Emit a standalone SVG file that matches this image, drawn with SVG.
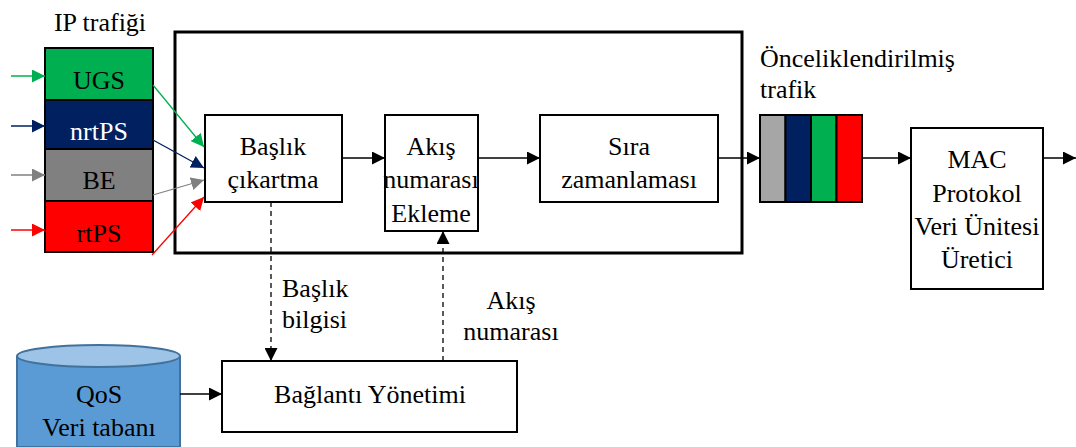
<svg xmlns="http://www.w3.org/2000/svg" width="1076" height="447" viewBox="0 0 1076 447">
  <style>
    text { font-family: "Liberation Serif", "Times New Roman", serif; font-size: 26px; fill: #000; }
    .c { text-anchor: middle; }
    .box { fill: #fff; stroke: #000; stroke-width: 2; }
    .cell { stroke: #000; stroke-width: 2; }
    .ln { fill: none; stroke: #000; stroke-width: 1.3; }
    .dash { fill: none; stroke: #000; stroke-width: 1.3; stroke-dasharray: 5 4; }
  </style>
  <defs>
    <marker id="ak" viewBox="0 0 10 10" refX="10" refY="5" markerWidth="13" markerHeight="13" markerUnits="userSpaceOnUse" orient="auto"><path d="M0,0 L10,5 L0,10 z" fill="#000"/></marker>
    <marker id="ag" viewBox="0 0 10 10" refX="10" refY="5" markerWidth="13" markerHeight="13" markerUnits="userSpaceOnUse" orient="auto"><path d="M0,0 L10,5 L0,10 z" fill="#00B050"/></marker>
    <marker id="an" viewBox="0 0 10 10" refX="10" refY="5" markerWidth="13" markerHeight="13" markerUnits="userSpaceOnUse" orient="auto"><path d="M0,0 L10,5 L0,10 z" fill="#002060"/></marker>
    <marker id="ay" viewBox="0 0 10 10" refX="10" refY="5" markerWidth="13" markerHeight="13" markerUnits="userSpaceOnUse" orient="auto"><path d="M0,0 L10,5 L0,10 z" fill="#808080"/></marker>
    <marker id="ar" viewBox="0 0 10 10" refX="10" refY="5" markerWidth="13" markerHeight="13" markerUnits="userSpaceOnUse" orient="auto"><path d="M0,0 L10,5 L0,10 z" fill="#FF0000"/></marker>
  </defs>

  <rect width="1076" height="447" fill="#fff"/>

  <!-- outer processing block -->
  <rect id="frame" x="175" y="32" width="567" height="221" fill="none" stroke="#000" stroke-width="3"/>

  <!-- incoming IP traffic classes -->
  <g id="ip-traffic">
    <text x="100" y="31" class="c">IP trafiği</text>
    <rect class="cell" x="45" y="48" width="108" height="52" fill="#00B050"/>
    <text x="99" y="89" class="c">UGS</text>
    <rect class="cell" x="45" y="100" width="108" height="49" fill="#002060"/>
    <text x="99" y="140" class="c" style="fill:#fff">nrtPS</text>
    <rect class="cell" x="45" y="149" width="108" height="52" fill="#808080"/>
    <text x="99" y="189" class="c">BE</text>
    <rect class="cell" x="45" y="201" width="108" height="51" fill="#FF0000"/>
    <text x="99" y="242" class="c">rtPS</text>
  </g>

  <g id="baslik-cikartma">
    <rect class="box" x="205" y="115" width="137" height="87"/>
    <text x="273" y="155" class="c">Başlık</text>
    <text x="273" y="188" class="c">çıkartma</text>
  </g>

  <g id="akis-ekleme">
    <rect class="box" x="385" y="115" width="93" height="116"/>
    <text x="431" y="155" class="c">Akış</text>
    <text x="431" y="188" class="c">numarası</text>
    <text x="431" y="222" class="c">Ekleme</text>
  </g>

  <g id="sira-zamanlamasi">
    <rect class="box" x="540" y="115" width="178" height="87"/>
    <text x="629" y="155" class="c">Sıra</text>
    <text x="629" y="188" class="c">zamanlaması</text>
  </g>

  <g id="oncelikli-trafik">
    <text x="760" y="67">Önceliklendirilmiş</text>
    <text x="760" y="98">trafik</text>
    <rect class="cell" x="760" y="115" width="25.5" height="87" fill="#A6A6A6"/>
    <rect class="cell" x="785.5" y="115" width="25.5" height="87" fill="#002060"/>
    <rect class="cell" x="811" y="115" width="25.5" height="87" fill="#00B050"/>
    <rect class="cell" x="836.5" y="115" width="25.5" height="87" fill="#FF0000"/>
  </g>

  <g id="mac-pdu">
    <rect class="box" x="911" y="128" width="132" height="161"/>
    <text x="977" y="168" class="c">MAC</text>
    <text x="977" y="202" class="c">Protokol</text>
    <text x="977" y="235" class="c">Veri Ünitesi</text>
    <text x="977" y="268" class="c">Üretici</text>
  </g>

  <g id="qos-db">
    <path d="M17,356 L17,447 L180,447 L180,356" fill="#5B9BD5" stroke="#41719C" stroke-width="2"/>
    <ellipse cx="98.5" cy="356" rx="81.5" ry="11" fill="#9DC3E6" stroke="#41719C" stroke-width="2"/>
    <text x="99" y="403" class="c">QoS</text>
    <text x="99" y="436" class="c">Veri tabanı</text>
  </g>

  <g id="baglanti-yonetimi">
    <rect class="box" x="222" y="361" width="295" height="71"/>
    <text x="370" y="403" class="c">Bağlantı Yönetimi</text>
  </g>

  <g id="labels">
    <text x="282" y="297">Başlık</text>
    <text x="282" y="328">bilgisi</text>
    <text x="511" y="309" class="c">Akış</text>
    <text x="511" y="340" class="c">numarası</text>
  </g>

  <g id="connectors">
    <line x1="11" y1="76" x2="45" y2="76" stroke="#00B050" stroke-width="1.3" marker-end="url(#ag)"/>
    <line x1="11" y1="126" x2="45" y2="126" stroke="#002060" stroke-width="1.3" marker-end="url(#an)"/>
    <line x1="11" y1="175" x2="45" y2="175" stroke="#808080" stroke-width="1.3" marker-end="url(#ay)"/>
    <line x1="11" y1="230" x2="45" y2="230" stroke="#FF0000" stroke-width="1.3" marker-end="url(#ar)"/>
    <line x1="153" y1="85" x2="204" y2="147" stroke="#00B050" stroke-width="1.3" marker-end="url(#ag)"/>
    <line x1="153" y1="140" x2="204" y2="168" stroke="#002060" stroke-width="1.3" marker-end="url(#an)"/>
    <line x1="153" y1="195" x2="204" y2="180" stroke="#808080" stroke-width="1.3" marker-end="url(#ay)"/>
    <line x1="152" y1="255" x2="204" y2="197" stroke="#FF0000" stroke-width="1.3" marker-end="url(#ar)"/>
    <line class="ln" x1="342" y1="158" x2="385" y2="158" marker-end="url(#ak)"/>
    <line class="ln" x1="478" y1="158" x2="540" y2="158" marker-end="url(#ak)"/>
    <line class="ln" x1="718" y1="158" x2="760" y2="158" marker-end="url(#ak)"/>
    <line class="ln" x1="862" y1="158" x2="911" y2="158" marker-end="url(#ak)"/>
    <line class="ln" x1="1043" y1="158" x2="1076" y2="158" marker-end="url(#ak)"/>
    <line class="ln" x1="180" y1="394" x2="222" y2="394" marker-end="url(#ak)"/>
    <line class="dash" x1="271" y1="202" x2="271" y2="361" marker-end="url(#ak)"/>
    <line class="dash" x1="443" y1="361" x2="443" y2="231" marker-end="url(#ak)"/>
  </g>
</svg>
